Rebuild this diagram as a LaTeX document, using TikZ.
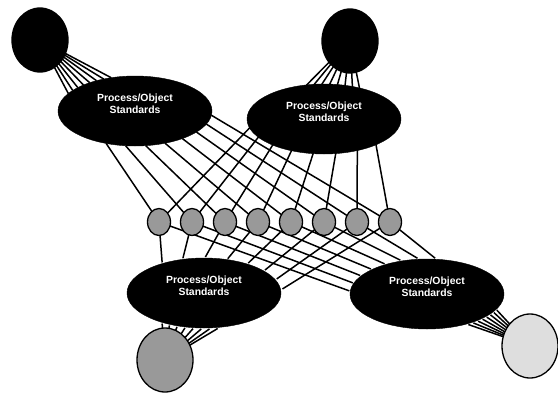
\documentclass[tikz,border=0pt]{standalone}
\usepackage{fontspec}
\newfontfamily\labfont{Liberation Sans}
\usetikzlibrary{shapes.geometric,calc,backgrounds}
\definecolor{midgray}{gray}{0.6}
\definecolor{palegray}{gray}{0.87}
\tikzset{
    std/.style={
        ellipse,
        fill=black,
        draw=black,
        minimum width=154pt,
        minimum height=70pt,
        inner sep=0pt,
        text=white,
        align=center,
        font={\labfont\bfseries\fontsize{10.4}{12}\selectfont}
    },
    corner/.style={
        ellipse,
        draw=black,
        line width=1.3pt,
        minimum width=56pt,
        minimum height=64pt
    },
    dot/.style={
        ellipse,
        draw=black,
        fill=midgray,
        line width=1.3pt,
        minimum width=23pt,
        minimum height=27pt,
        inner sep=0pt
    },
    wire/.style={line width=1.5pt}
}
% corner, standards node, rx, ry, first angle, step
\newcommand{\fan}[6] {
    \foreach \i in {0,...,7}
        \draw[wire] (#1.center) -- ($(#2)+({#3*cos(#5+#6*\i)},{#4*sin(#5+#6*\i)})$);
}
% standards node, rx, ry, first angle, step
\newcommand{\links}[5] {
    \foreach \i in {1,...,8}
        \draw[wire] (d\i.center) -- ($(#1)+({#2*cos(#4+#5*(\i-1))},{#3*sin(#4+#5*(\i-1))})$);
}

\begin{document}
\begin{tikzpicture}[x=1pt,y=-1pt]
    \useasboundingbox (0,0) rectangle (558,392);
    \node[std] (tl) at (135,111) {Process/Object\\Standards\\[2pt]};
    \node[std] (tr) at (324,119) {Process/Object\\Standards\\[2pt]};
    \node[std] (bl) at (204,293) {Process/Object\\Standards\\[2pt]};
    \node[std] (br) at (427,294) {Process/Object\\Standards\\[2pt]};
    \node[corner,fill=black] (ctl) at (40,40) {};
    \node[corner,fill=black] (ctr) at (350,41) {};
    \node[corner,fill=midgray] (cbl) at (165,360) {};
    \node[corner,fill=palegray] (cbr) at (530,346) {};
    \foreach \x [count=\n] in {159,192,...,390}
        \node[dot] (d\n) at (\x,222) {};
    \begin{scope}[on background layer]
        \fan{ctl}{tl}{77}{35}{-150}{6}
        \fan{ctr}{tr}{76}{34}{-104}{6}
        \fan{cbl}{bl}{79}{36}{122}{-6}
        \fan{cbr}{br}{78}{36}{58}{-4.5}
        \links{tl}{77}{35}{112}{-15}
        \links{tr}{76}{34}{166}{-17}
        \links{bl}{79}{36}{-122}{16.5}
        \links{br}{78}{36}{-175}{13}
    \end{scope}
\end{tikzpicture}
\end{document}
